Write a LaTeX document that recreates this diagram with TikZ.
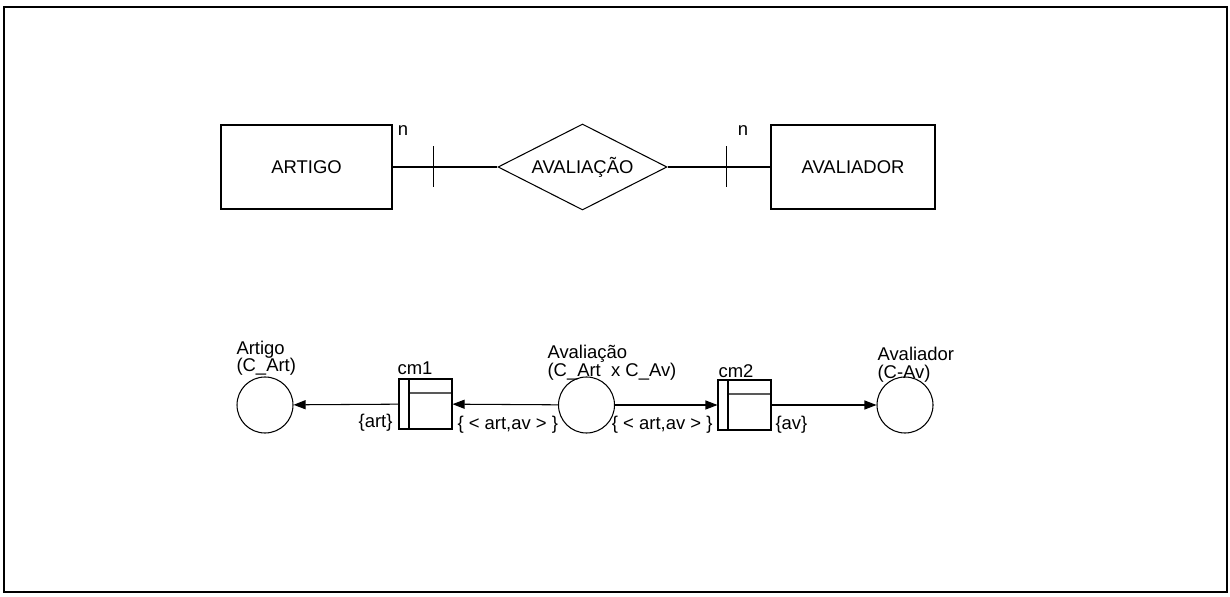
\documentclass[tikz,border=0pt]{standalone}
\usepackage{fontspec}
\setmainfont{Liberation Sans}
\usetikzlibrary{shapes.geometric,arrows.meta,calc}

\begin{document}
\begin{tikzpicture}[x=1cm,y=1cm,font=\fontsize{10.5}{10}\selectfont,line width=.6pt,
    >={Triangle[length=.24cm,width=.18cm]},
    entidade/.style={draw,minimum height=1.68cm,inner sep=0pt},
    relacao/.style={draw,diamond,aspect=2,minimum width=3.38cm,minimum height=1.72cm,inner sep=0pt},
    lugar/.style={draw,circle,minimum size=1.12cm,inner sep=0pt},
    trans/.style={draw,minimum width=1.06cm,minimum height=1cm,inner sep=0pt,
      path picture={
        \draw ([xshift=.2cm]path picture bounding box.north west)
          -- ([xshift=.2cm]path picture bounding box.south west);
        \draw ([shift={(.2,-.28)}]path picture bounding box.north west)
          -- ([yshift=-.28cm]path picture bounding box.north east);}},
    rotulo/.style={inner sep=0pt}]
    \useasboundingbox (0,0) rectangle (24.6,11.92);
    \draw[line width=1.2pt] (.08,.08) rectangle (24.54,11.78);
    % modelo ER
    \node[entidade,minimum width=3.42cm] (artigo) at (6.13,8.58) {ARTIGO};
    \node[relacao] (aval) at (11.65,8.58) {AVALIAÇÃO};
    \node[entidade,minimum width=3.28cm] (avaliador) at (17.06,8.58) {AVALIADOR};
    \draw (artigo) -- coordinate[pos=.387] (t1) (aval);
    \draw (aval) -- coordinate[pos=.577] (t2) (avaliador);
    \draw ($(t1)+(0,.41)$) -- ($(t1)-(0,.41)$);
    \draw ($(t2)+(0,.41)$) -- ($(t2)-(0,.41)$);
    \node (n1) at (8.06,9.3) {n};
    \node (n2) at (14.86,9.3) {n};
    % rede
    \node[lugar] (artigoP) at (5.3,3.82) {};
    \node[trans] (cm1) at (8.51,3.84) {};
    \node[lugar] (avalP) at (11.73,3.82) {};
    \node[trans] (cm2) at (14.89,3.82) {};
    \node[lugar] (avaliadorP) at (18.1,3.82) {};
    \draw[->] (cm1) -- (artigoP);
    \draw[->] (avalP) -- (cm1);
    \draw[->] (avalP) -- (cm2);
    \draw[->] (cm2) -- (avaliadorP);
    \node[rotulo,anchor=south west,align=left] (lartigo) at (4.72,4.40) {Artigo\\(C\_Art)};
    \node[rotulo,anchor=south west,align=left] (laval) at (10.94,4.31) {Avaliação\\(C\_Art\ \ x C\_Av)};
    \node[rotulo,anchor=south west,align=left] (lavaliador) at (17.54,4.27) {Avaliador\\(C-Av)};
    \node[rotulo,anchor=base west] (lcm1) at (7.94,4.42) {cm1};
    \node[rotulo,anchor=base west] (lcm2) at (14.36,4.36) {cm2};
    \node[rotulo,anchor=east] (a1) at (7.86,3.46) {\{art\}};
    \node[rotulo,anchor=west] (a2) at (9.14,3.42) {\{ < art,av > \}};
    \node[rotulo,anchor=east] (a3) at (14.26,3.42) {\{ < art,av > \}};
    \node[rotulo,anchor=west] (a4) at (15.5,3.42) {\{av\}};
\end{tikzpicture}
\end{document}
